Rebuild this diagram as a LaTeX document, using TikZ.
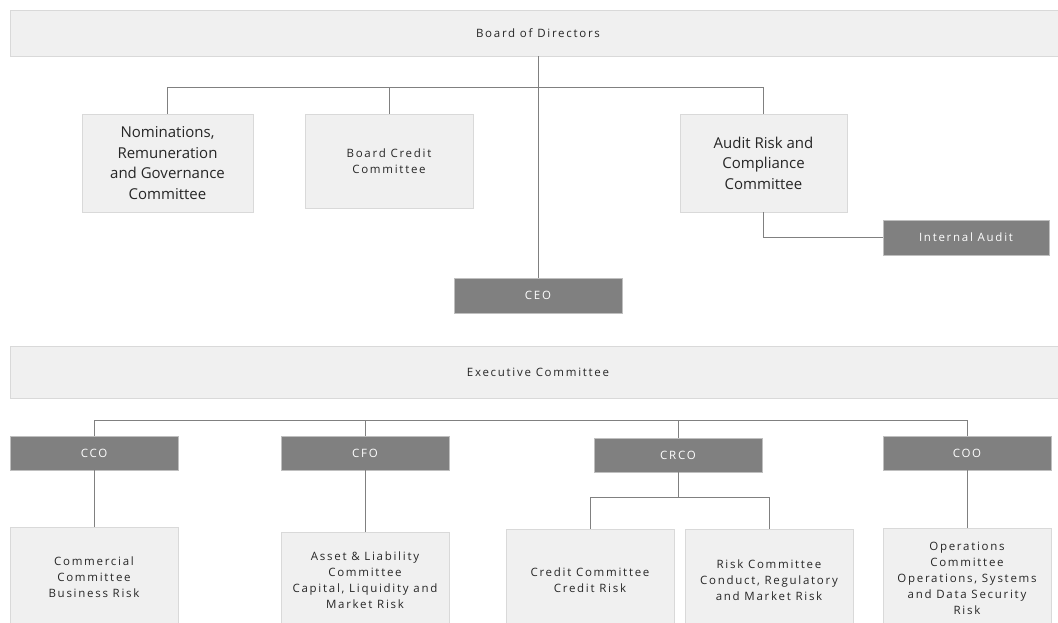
\documentclass[tikz,border=0pt]{standalone}
\usepackage{fontspec}
\setmainfont{Open Sans}
\newfontfamily\chartfont[LetterSpace=15]{Open Sans}
\usetikzlibrary{positioning, calc}

\begin{document}
\begin{tikzpicture}[x=1pt, y=-1pt]

% --- Styles (grey org chart) ---
\tikzset{
    lightBox/.style={fill=black!6, draw=black!15, line width=0.8pt, inner sep=2pt, align=center,
        font=\chartfont\fontsize{11.5}{16}\selectfont, text=black!85},
    bigText/.style={font=\fontsize{15}{20.5}\selectfont},
    darkBox/.style={fill=black!50, draw=black!25, line width=0.8pt, inner sep=2pt, align=center,
        minimum width=168pt, minimum height=35pt, text=white, font=\chartfont\fontsize{11.5}{14}\selectfont},
    orgLink/.style={draw=black!50, line width=0.9pt},
}

\useasboundingbox (0,0) rectangle (1058,623);

% --- Board level ---
\node[lightBox, minimum width=1056pt, minimum height=46pt] (board) at (538,33) {Board of Directors};

\node[lightBox, bigText, minimum width=171pt, minimum height=98pt] (nomin) at (167.5,163)
    {Nominations,\\Remuneration\\and Governance\\Committee};
\node[lightBox, minimum width=168pt, minimum height=94pt] (bcredit) at (389,161)
    {Board Credit\\Committee};
\node[lightBox, bigText, minimum width=167pt, minimum height=98pt] (audit) at (763.5,163)
    {Audit Risk and\\Compliance\\Committee};
\node[darkBox, minimum width=166pt] (intaudit) at (966,237.5) {Internal Audit};
\node[darkBox] (ceo) at (538,295.5) {CEO};

% --- Executive level ---
\node[lightBox, minimum width=1056pt, minimum height=52pt] (exco) at (538,372) {Executive Committee};

\node[darkBox, minimum height=34pt] (cco) at (94,453) {CCO};
\node[darkBox, minimum height=34pt] (cfo) at (365,453) {CFO};
\node[darkBox, minimum height=34pt] (crco) at (678,455) {CRCO};
\node[darkBox, minimum height=34pt] (coo) at (967,453) {COO};

% bottom committees run off the page
\node[lightBox, minimum width=168pt, minimum height=100pt] (commer) at (94,577)
    {Commercial\\Committee\\Business Risk};
\node[lightBox, minimum width=168pt, minimum height=96pt] (alco) at (365,580)
    {Asset \& Liability\\Committee\\Capital, Liquidity and\\Market Risk};
\node[lightBox, minimum width=168pt, minimum height=102pt] (credit) at (590,580)
    {Credit Committee\\Credit Risk};
\node[lightBox, minimum width=168pt, minimum height=102pt] (riskc) at (769,580)
    {Risk Committee\\Conduct, Regulatory\\and Market Risk};
\node[lightBox, minimum width=168pt, minimum height=100pt] (opsc) at (967,578)
    {Operations\\Committee\\Operations, Systems\\and Data Security\\Risk};

% --- Bars ---
\coordinate (boardBar) at (0,87);
\coordinate (execBar) at (0,420);
\coordinate (riskBar) at (0,497);

% --- Connectors ---
\draw[orgLink] (board.south) -- (ceo.north);
\draw[orgLink] (nomin.north) -- (nomin.north |- boardBar) -- (audit.north |- boardBar) -- (audit.north);
\draw[orgLink] (bcredit.north) -- (bcredit.north |- boardBar);
\draw[orgLink] (audit.south) |- (intaudit.west);

\draw[orgLink] (cco.north) -- (cco.north |- execBar) -- (coo.north |- execBar) -- (coo.north);
\draw[orgLink] (cfo.north) -- (cfo.north |- execBar);
\draw[orgLink] (crco.north) -- (crco.north |- execBar);

\draw[orgLink] (cco.south) -- (commer.north);
\draw[orgLink] (cfo.south) -- (alco.north);
\draw[orgLink] (crco.south) -- (crco.south |- riskBar);
\draw[orgLink] (credit.north) -- (credit.north |- riskBar) -- (riskc.north |- riskBar) -- (riskc.north);
\draw[orgLink] (coo.south) -- (opsc.north);

\end{tikzpicture}
\end{document}
